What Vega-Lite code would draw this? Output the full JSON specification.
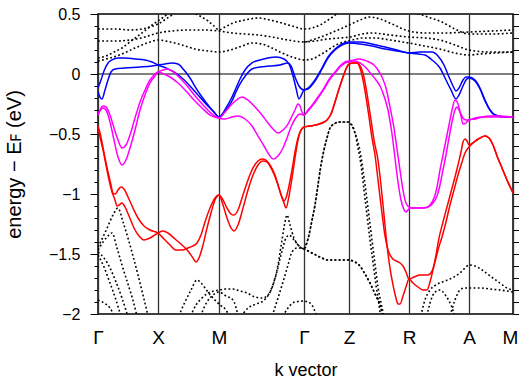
{
"$schema":"https://vega.github.io/schema/vega-lite/v6.json",
"width":415,"height":300,
"autosize":{"type":"none"},
"padding":{"left":98,"top":14,"right":6,"bottom":67},
"background":"white",
"config":{"font":"Liberation Sans","view":{"stroke":"black","strokeWidth":1.5}},
"data":{"values":[
{"b":"B1","k":0,"E":-0.117},{"b":"B1","k":3,"E":-0.05},{"b":"B1","k":6,"E":0.025},{"b":"B1","k":10,"E":0.092},{"b":"B1","k":14,"E":0.117},{"b":"B1","k":20,"E":0.133},{"b":"B1","k":27,"E":0.133},{"b":"B1","k":37,"E":0.125},{"b":"B1","k":47,"E":0.117},{"b":"B1","k":54,"E":0.1},{"b":"B1","k":60,"E":0.075},
{"b":"B1","k":68,"E":0.05},{"b":"B1","k":76,"E":0.017},{"b":"B1","k":84,"E":-0.033},{"b":"B1","k":92,"E":-0.1},{"b":"B1","k":100,"E":-0.175},{"b":"B1","k":108,"E":-0.25},{"b":"B1","k":115,"E":-0.308},{"b":"B1","k":121,"E":-0.358},
{"b":"B1","k":128,"E":-0.3},{"b":"B1","k":134,"E":-0.225},{"b":"B1","k":138,"E":-0.15},{"b":"B1","k":142,"E":-0.083},{"b":"B1","k":148,"E":-0.008},{"b":"B1","k":154,"E":0.042},{"b":"B1","k":162,"E":0.058},{"b":"B1","k":172,"E":0.067},{"b":"B1","k":182,"E":0.075},{"b":"B1","k":190,"E":0.092},{"b":"B1","k":193,"E":0.067},{"b":"B1","k":197,"E":-0.025},{"b":"B1","k":201,"E":-0.1},{"b":"B1","k":206,"E":-0.133},
{"b":"B1","k":210,"E":-0.117},{"b":"B1","k":217,"E":-0.05},{"b":"B1","k":224,"E":0.05},{"b":"B1","k":230,"E":0.142},{"b":"B1","k":237,"E":0.208},{"b":"B1","k":244,"E":0.25},{"b":"B1","k":251,"E":0.267},
{"b":"B1","k":262,"E":0.267},{"b":"B1","k":274,"E":0.25},{"b":"B1","k":287,"E":0.225},{"b":"B1","k":299,"E":0.2},{"b":"B1","k":311,"E":0.175},
{"b":"B1","k":322,"E":0.183},{"b":"B1","k":334,"E":0.183},{"b":"B1","k":340,"E":0.15},{"b":"B1","k":346,"E":0.075},{"b":"B1","k":351,"E":-0.025},{"b":"B1","k":355,"E":-0.1},{"b":"B1","k":358,"E":-0.142},{"b":"B1","k":361,"E":-0.117},{"b":"B1","k":365,"E":-0.05},{"b":"B1","k":368,"E":-0.025},{"b":"B1","k":371,"E":-0.025},
{"b":"B1","k":377,"E":-0.05},{"b":"B1","k":382,"E":-0.117},{"b":"B1","k":387,"E":-0.217},{"b":"B1","k":392,"E":-0.3},{"b":"B1","k":397,"E":-0.342},{"b":"B1","k":407,"E":-0.358},{"b":"B1","k":415,"E":-0.358},

{"b":"B2","k":0,"E":-0.15},{"b":"B2","k":2,"E":-0.192},{"b":"B2","k":4,"E":-0.208},{"b":"B2","k":7,"E":-0.133},{"b":"B2","k":10,"E":-0.05},{"b":"B2","k":13,"E":0.017},{"b":"B2","k":17,"E":0.042},{"b":"B2","k":27,"E":0.05},{"b":"B2","k":42,"E":0.058},{"b":"B2","k":54,"E":0.067},{"b":"B2","k":60,"E":0.075},
{"b":"B2","k":67,"E":0.083},{"b":"B2","k":74,"E":0.092},{"b":"B2","k":80,"E":0.083},{"b":"B2","k":86,"E":0.033},{"b":"B2","k":92,"E":-0.033},{"b":"B2","k":98,"E":-0.117},{"b":"B2","k":104,"E":-0.192},{"b":"B2","k":110,"E":-0.258},{"b":"B2","k":116,"E":-0.317},{"b":"B2","k":121,"E":-0.358},
{"b":"B2","k":128,"E":-0.283},{"b":"B2","k":134,"E":-0.192},{"b":"B2","k":138,"E":-0.117},{"b":"B2","k":142,"E":-0.042},{"b":"B2","k":147,"E":0.033},{"b":"B2","k":154,"E":0.092},{"b":"B2","k":162,"E":0.117},{"b":"B2","k":170,"E":0.133},{"b":"B2","k":178,"E":0.142},{"b":"B2","k":186,"E":0.125},{"b":"B2","k":191,"E":0.083},{"b":"B2","k":195,"E":-0.017},{"b":"B2","k":198,"E":-0.117},{"b":"B2","k":201,"E":-0.208},{"b":"B2","k":203,"E":-0.183},{"b":"B2","k":206,"E":-0.133},
{"b":"B2","k":210,"E":-0.125},{"b":"B2","k":217,"E":-0.058},{"b":"B2","k":224,"E":0.042},{"b":"B2","k":230,"E":0.133},{"b":"B2","k":237,"E":0.2},{"b":"B2","k":244,"E":0.242},{"b":"B2","k":251,"E":0.258},
{"b":"B2","k":262,"E":0.25},{"b":"B2","k":274,"E":0.233},{"b":"B2","k":287,"E":0.208},{"b":"B2","k":299,"E":0.192},{"b":"B2","k":311,"E":0.175},
{"b":"B2","k":320,"E":0.167},{"b":"B2","k":327,"E":0.158},{"b":"B2","k":334,"E":0.117},{"b":"B2","k":342,"E":0.05},{"b":"B2","k":348,"E":-0.05},{"b":"B2","k":353,"E":-0.133},{"b":"B2","k":358,"E":-0.208},{"b":"B2","k":361,"E":-0.175},{"b":"B2","k":365,"E":-0.1},{"b":"B2","k":368,"E":-0.05},{"b":"B2","k":371,"E":-0.033},
{"b":"B2","k":377,"E":-0.058},{"b":"B2","k":382,"E":-0.125},{"b":"B2","k":387,"E":-0.225},{"b":"B2","k":392,"E":-0.3},{"b":"B2","k":397,"E":-0.342},{"b":"B2","k":407,"E":-0.358},{"b":"B2","k":415,"E":-0.358},

{"b":"M1","k":0,"E":-0.342},{"b":"M1","k":2,"E":-0.3},{"b":"M1","k":5,"E":-0.267},{"b":"M1","k":8,"E":-0.275},{"b":"M1","k":12,"E":-0.342},{"b":"M1","k":16,"E":-0.45},{"b":"M1","k":20,"E":-0.55},{"b":"M1","k":24,"E":-0.617},{"b":"M1","k":28,"E":-0.592},{"b":"M1","k":32,"E":-0.508},{"b":"M1","k":37,"E":-0.367},{"b":"M1","k":42,"E":-0.233},{"b":"M1","k":47,"E":-0.133},{"b":"M1","k":52,"E":-0.05},{"b":"M1","k":57,"E":0},{"b":"M1","k":60,"E":0.017},
{"b":"M1","k":65,"E":0.033},{"b":"M1","k":69,"E":0.042},{"b":"M1","k":74,"E":0.025},{"b":"M1","k":82,"E":-0.033},{"b":"M1","k":90,"E":-0.108},{"b":"M1","k":98,"E":-0.192},{"b":"M1","k":106,"E":-0.267},{"b":"M1","k":114,"E":-0.333},{"b":"M1","k":121,"E":-0.367},
{"b":"M1","k":127,"E":-0.317},{"b":"M1","k":134,"E":-0.25},{"b":"M1","k":140,"E":-0.208},{"b":"M1","k":144,"E":-0.192},{"b":"M1","k":150,"E":-0.217},{"b":"M1","k":157,"E":-0.275},{"b":"M1","k":164,"E":-0.342},{"b":"M1","k":170,"E":-0.408},{"b":"M1","k":175,"E":-0.458},{"b":"M1","k":180,"E":-0.492},{"b":"M1","k":185,"E":-0.467},{"b":"M1","k":190,"E":-0.417},{"b":"M1","k":194,"E":-0.35},{"b":"M1","k":197,"E":-0.3},{"b":"M1","k":200,"E":-0.25},{"b":"M1","k":202,"E":-0.267},{"b":"M1","k":204,"E":-0.317},{"b":"M1","k":206,"E":-0.342},
{"b":"M1","k":210,"E":-0.308},{"b":"M1","k":215,"E":-0.258},{"b":"M1","k":220,"E":-0.2},{"b":"M1","k":226,"E":-0.125},{"b":"M1","k":232,"E":-0.042},{"b":"M1","k":237,"E":0.008},{"b":"M1","k":242,"E":0.058},{"b":"M1","k":247,"E":0.092},{"b":"M1","k":251,"E":0.1},
{"b":"M1","k":255,"E":0.108},{"b":"M1","k":260,"E":0.1},{"b":"M1","k":265,"E":0.075},{"b":"M1","k":270,"E":0.033},{"b":"M1","k":274,"E":-0.008},{"b":"M1","k":278,"E":-0.05},{"b":"M1","k":282,"E":-0.1},{"b":"M1","k":286,"E":-0.183},{"b":"M1","k":290,"E":-0.3},{"b":"M1","k":294,"E":-0.5},{"b":"M1","k":297,"E":-0.7},{"b":"M1","k":300,"E":-0.9},{"b":"M1","k":303,"E":-1.05},{"b":"M1","k":306,"E":-1.13},{"b":"M1","k":308,"E":-1.15},{"b":"M1","k":310,"E":-1.133},{"b":"M1","k":312,"E":-1.117},{"b":"M1","k":320,"E":-1.117},{"b":"M1","k":327,"E":-1.117},{"b":"M1","k":332,"E":-1.092},{"b":"M1","k":336,"E":-1.033},{"b":"M1","k":339,"E":-0.942},{"b":"M1","k":342,"E":-0.8},{"b":"M1","k":345,"E":-0.675},{"b":"M1","k":348,"E":-0.55},{"b":"M1","k":351,"E":-0.425},{"b":"M1","k":354,"E":-0.3},{"b":"M1","k":357,"E":-0.217},{"b":"M1","k":360,"E":-0.25},{"b":"M1","k":363,"E":-0.35},{"b":"M1","k":365,"E":-0.417},{"b":"M1","k":368,"E":-0.408},{"b":"M1","k":371,"E":-0.383},
{"b":"M1","k":377,"E":-0.375},{"b":"M1","k":384,"E":-0.358},{"b":"M1","k":392,"E":-0.35},{"b":"M1","k":402,"E":-0.35},{"b":"M1","k":415,"E":-0.358},

{"b":"M2","k":0,"E":-0.342},{"b":"M2","k":2,"E":-0.308},{"b":"M2","k":5,"E":-0.283},{"b":"M2","k":8,"E":-0.3},{"b":"M2","k":12,"E":-0.4},{"b":"M2","k":16,"E":-0.55},{"b":"M2","k":20,"E":-0.692},{"b":"M2","k":24,"E":-0.758},{"b":"M2","k":28,"E":-0.717},{"b":"M2","k":32,"E":-0.617},{"b":"M2","k":37,"E":-0.467},{"b":"M2","k":42,"E":-0.3},{"b":"M2","k":47,"E":-0.175},{"b":"M2","k":52,"E":-0.075},{"b":"M2","k":57,"E":-0.017},{"b":"M2","k":60,"E":0.017},
{"b":"M2","k":66,"E":0},{"b":"M2","k":72,"E":-0.025},{"b":"M2","k":80,"E":-0.075},{"b":"M2","k":88,"E":-0.142},{"b":"M2","k":96,"E":-0.217},{"b":"M2","k":104,"E":-0.283},{"b":"M2","k":112,"E":-0.342},{"b":"M2","k":121,"E":-0.367},
{"b":"M2","k":127,"E":-0.375},{"b":"M2","k":134,"E":-0.358},{"b":"M2","k":140,"E":-0.35},{"b":"M2","k":147,"E":-0.375},{"b":"M2","k":154,"E":-0.433},{"b":"M2","k":160,"E":-0.517},{"b":"M2","k":166,"E":-0.6},{"b":"M2","k":170,"E":-0.658},{"b":"M2","k":175,"E":-0.708},{"b":"M2","k":180,"E":-0.683},{"b":"M2","k":185,"E":-0.617},{"b":"M2","k":189,"E":-0.533},{"b":"M2","k":193,"E":-0.442},{"b":"M2","k":197,"E":-0.375},{"b":"M2","k":202,"E":-0.333},{"b":"M2","k":206,"E":-0.342},
{"b":"M2","k":210,"E":-0.3},{"b":"M2","k":215,"E":-0.25},{"b":"M2","k":220,"E":-0.192},{"b":"M2","k":226,"E":-0.117},{"b":"M2","k":232,"E":-0.033},{"b":"M2","k":237,"E":0.017},{"b":"M2","k":242,"E":0.067},{"b":"M2","k":247,"E":0.1},{"b":"M2","k":251,"E":0.108},
{"b":"M2","k":256,"E":0.117},{"b":"M2","k":261,"E":0.125},{"b":"M2","k":266,"E":0.117},{"b":"M2","k":271,"E":0.1},{"b":"M2","k":276,"E":0.075},{"b":"M2","k":280,"E":0.033},{"b":"M2","k":284,"E":-0.025},{"b":"M2","k":288,"E":-0.117},{"b":"M2","k":292,"E":-0.275},{"b":"M2","k":296,"E":-0.45},{"b":"M2","k":299,"E":-0.625},{"b":"M2","k":302,"E":-0.8},{"b":"M2","k":305,"E":-0.967},{"b":"M2","k":308,"E":-1.075},{"b":"M2","k":311,"E":-1.108},{"b":"M2","k":314,"E":-1.117},{"b":"M2","k":322,"E":-1.117},{"b":"M2","k":330,"E":-1.108},{"b":"M2","k":335,"E":-1.075},{"b":"M2","k":339,"E":-1.017},{"b":"M2","k":342,"E":-0.925},{"b":"M2","k":345,"E":-0.8},{"b":"M2","k":348,"E":-0.675},{"b":"M2","k":351,"E":-0.533},{"b":"M2","k":354,"E":-0.4},{"b":"M2","k":357,"E":-0.3},{"b":"M2","k":359,"E":-0.275},{"b":"M2","k":362,"E":-0.317},{"b":"M2","k":365,"E":-0.367},{"b":"M2","k":368,"E":-0.383},{"b":"M2","k":371,"E":-0.383},
{"b":"M2","k":377,"E":-0.367},{"b":"M2","k":384,"E":-0.358},{"b":"M2","k":392,"E":-0.358},{"b":"M2","k":402,"E":-0.358},{"b":"M2","k":415,"E":-0.358},

{"b":"R1","k":0,"E":-0.433},{"b":"R1","k":2,"E":-0.492},{"b":"R1","k":4,"E":-0.567},{"b":"R1","k":7,"E":-0.7},{"b":"R1","k":10,"E":-0.817},{"b":"R1","k":13,"E":-0.925},{"b":"R1","k":15,"E":-0.992},{"b":"R1","k":17,"E":-1.0},{"b":"R1","k":20,"E":-0.967},{"b":"R1","k":23,"E":-0.942},{"b":"R1","k":26,"E":-0.958},{"b":"R1","k":30,"E":-1.025},{"b":"R1","k":35,"E":-1.117},{"b":"R1","k":40,"E":-1.2},{"b":"R1","k":46,"E":-1.267},{"b":"R1","k":52,"E":-1.3},{"b":"R1","k":60,"E":-1.325},
{"b":"R1","k":66,"E":-1.375},{"b":"R1","k":72,"E":-1.425},{"b":"R1","k":78,"E":-1.467},{"b":"R1","k":84,"E":-1.467},{"b":"R1","k":90,"E":-1.45},{"b":"R1","k":95,"E":-1.433},{"b":"R1","k":99,"E":-1.408},{"b":"R1","k":103,"E":-1.342},{"b":"R1","k":107,"E":-1.233},{"b":"R1","k":112,"E":-1.117},{"b":"R1","k":117,"E":-1.033},{"b":"R1","k":121,"E":-1.008},
{"b":"R1","k":125,"E":-1.05},{"b":"R1","k":129,"E":-1.117},{"b":"R1","k":133,"E":-1.167},{"b":"R1","k":136,"E":-1.175},{"b":"R1","k":140,"E":-1.133},{"b":"R1","k":145,"E":-1.008},{"b":"R1","k":150,"E":-0.883},{"b":"R1","k":155,"E":-0.783},{"b":"R1","k":160,"E":-0.725},{"b":"R1","k":164,"E":-0.708},{"b":"R1","k":168,"E":-0.717},{"b":"R1","k":172,"E":-0.758},{"b":"R1","k":177,"E":-0.842},{"b":"R1","k":181,"E":-0.95},{"b":"R1","k":184,"E":-1.025},{"b":"R1","k":186,"E":-1.058},{"b":"R1","k":188,"E":-1.033},{"b":"R1","k":191,"E":-0.933},{"b":"R1","k":194,"E":-0.8},{"b":"R1","k":197,"E":-0.65},{"b":"R1","k":200,"E":-0.533},{"b":"R1","k":203,"E":-0.467},{"b":"R1","k":206,"E":-0.442},
{"b":"R1","k":212,"E":-0.433},{"b":"R1","k":218,"E":-0.425},{"b":"R1","k":224,"E":-0.408},{"b":"R1","k":229,"E":-0.383},{"b":"R1","k":233,"E":-0.333},{"b":"R1","k":237,"E":-0.233},{"b":"R1","k":241,"E":-0.125},{"b":"R1","k":245,"E":-0.025},{"b":"R1","k":248,"E":0.042},{"b":"R1","k":251,"E":0.083},{"b":"R1","k":255,"E":0.092},{"b":"R1","k":259,"E":0.092},
{"b":"R1","k":262,"E":0.05},{"b":"R1","k":265,"E":-0.05},{"b":"R1","k":268,"E":-0.192},{"b":"R1","k":271,"E":-0.358},{"b":"R1","k":274,"E":-0.533},{"b":"R1","k":277,"E":-0.675},{"b":"R1","k":280,"E":-0.883},{"b":"R1","k":283,"E":-1.092},{"b":"R1","k":287,"E":-1.35},{"b":"R1","k":290,"E":-1.467},{"b":"R1","k":294,"E":-1.533},{"b":"R1","k":298,"E":-1.558},{"b":"R1","k":302,"E":-1.575},{"b":"R1","k":305,"E":-1.6},{"b":"R1","k":308,"E":-1.65},{"b":"R1","k":311,"E":-1.708},
{"b":"R1","k":316,"E":-1.692},{"b":"R1","k":322,"E":-1.675},{"b":"R1","k":330,"E":-1.675},{"b":"R1","k":334,"E":-1.642},{"b":"R1","k":337,"E":-1.567},{"b":"R1","k":340,"E":-1.467},{"b":"R1","k":344,"E":-1.358},{"b":"R1","k":348,"E":-1.233},{"b":"R1","k":352,"E":-1.092},{"b":"R1","k":356,"E":-0.967},{"b":"R1","k":360,"E":-0.842},{"b":"R1","k":364,"E":-0.733},{"b":"R1","k":367,"E":-0.658},{"b":"R1","k":371,"E":-0.608},
{"b":"R1","k":376,"E":-0.567},{"b":"R1","k":382,"E":-0.533},{"b":"R1","k":387,"E":-0.517},{"b":"R1","k":391,"E":-0.533},{"b":"R1","k":395,"E":-0.592},{"b":"R1","k":399,"E":-0.683},{"b":"R1","k":404,"E":-0.783},{"b":"R1","k":409,"E":-0.883},{"b":"R1","k":415,"E":-0.992},

{"b":"R2","k":0,"E":-0.45},{"b":"R2","k":2,"E":-0.525},{"b":"R2","k":5,"E":-0.633},{"b":"R2","k":8,"E":-0.758},{"b":"R2","k":11,"E":-0.883},{"b":"R2","k":14,"E":-0.983},{"b":"R2","k":17,"E":-1.05},{"b":"R2","k":19,"E":-1.1},{"b":"R2","k":21,"E":-1.092},{"b":"R2","k":24,"E":-1.075},{"b":"R2","k":27,"E":-1.108},{"b":"R2","k":31,"E":-1.183},{"b":"R2","k":36,"E":-1.283},{"b":"R2","k":41,"E":-1.35},{"b":"R2","k":46,"E":-1.383},{"b":"R2","k":52,"E":-1.367},{"b":"R2","k":60,"E":-1.325},
{"b":"R2","k":65,"E":-1.308},{"b":"R2","k":70,"E":-1.325},{"b":"R2","k":77,"E":-1.375},{"b":"R2","k":84,"E":-1.425},{"b":"R2","k":90,"E":-1.475},{"b":"R2","k":95,"E":-1.533},{"b":"R2","k":98,"E":-1.567},{"b":"R2","k":101,"E":-1.533},{"b":"R2","k":105,"E":-1.425},{"b":"R2","k":109,"E":-1.283},{"b":"R2","k":113,"E":-1.158},{"b":"R2","k":117,"E":-1.05},{"b":"R2","k":121,"E":-1.008},
{"b":"R2","k":125,"E":-1.092},{"b":"R2","k":129,"E":-1.2},{"b":"R2","k":133,"E":-1.283},{"b":"R2","k":136,"E":-1.308},{"b":"R2","k":140,"E":-1.258},{"b":"R2","k":145,"E":-1.117},{"b":"R2","k":150,"E":-0.967},{"b":"R2","k":155,"E":-0.842},{"b":"R2","k":160,"E":-0.758},{"b":"R2","k":165,"E":-0.725},{"b":"R2","k":169,"E":-0.733},{"b":"R2","k":174,"E":-0.8},{"b":"R2","k":179,"E":-0.9},{"b":"R2","k":183,"E":-1.008},{"b":"R2","k":186,"E":-1.075},{"b":"R2","k":188,"E":-1.117},{"b":"R2","k":191,"E":-1.017},{"b":"R2","k":194,"E":-0.867},{"b":"R2","k":197,"E":-0.7},{"b":"R2","k":200,"E":-0.55},{"b":"R2","k":203,"E":-0.467},{"b":"R2","k":206,"E":-0.442},
{"b":"R2","k":212,"E":-0.433},{"b":"R2","k":218,"E":-0.425},{"b":"R2","k":224,"E":-0.408},{"b":"R2","k":229,"E":-0.383},{"b":"R2","k":233,"E":-0.333},{"b":"R2","k":237,"E":-0.233},{"b":"R2","k":241,"E":-0.125},{"b":"R2","k":245,"E":-0.025},{"b":"R2","k":248,"E":0.042},{"b":"R2","k":251,"E":0.083},{"b":"R2","k":255,"E":0.092},{"b":"R2","k":259,"E":0.092},
{"b":"R2","k":264,"E":0.033},{"b":"R2","k":267,"E":-0.067},{"b":"R2","k":270,"E":-0.217},{"b":"R2","k":273,"E":-0.383},{"b":"R2","k":276,"E":-0.55},{"b":"R2","k":280,"E":-0.717},{"b":"R2","k":283,"E":-0.925},{"b":"R2","k":286,"E":-1.175},{"b":"R2","k":289,"E":-1.425},{"b":"R2","k":292,"E":-1.617},{"b":"R2","k":295,"E":-1.758},{"b":"R2","k":298,"E":-1.867},{"b":"R2","k":300,"E":-1.917},{"b":"R2","k":302,"E":-1.917},{"b":"R2","k":305,"E":-1.85},{"b":"R2","k":308,"E":-1.775},{"b":"R2","k":311,"E":-1.708},
{"b":"R2","k":315,"E":-1.742},{"b":"R2","k":320,"E":-1.775},{"b":"R2","k":325,"E":-1.8},{"b":"R2","k":329,"E":-1.8},{"b":"R2","k":332,"E":-1.733},{"b":"R2","k":335,"E":-1.633},{"b":"R2","k":338,"E":-1.508},{"b":"R2","k":341,"E":-1.367},{"b":"R2","k":345,"E":-1.233},{"b":"R2","k":349,"E":-1.108},{"b":"R2","k":353,"E":-0.983},{"b":"R2","k":357,"E":-0.858},{"b":"R2","k":360,"E":-0.758},{"b":"R2","k":363,"E":-0.65},{"b":"R2","k":365,"E":-0.567},{"b":"R2","k":367,"E":-0.542},{"b":"R2","k":369,"E":-0.558},{"b":"R2","k":371,"E":-0.592},
{"b":"R2","k":376,"E":-0.567},{"b":"R2","k":382,"E":-0.533},{"b":"R2","k":387,"E":-0.517},{"b":"R2","k":391,"E":-0.533},{"b":"R2","k":395,"E":-0.592},{"b":"R2","k":399,"E":-0.683},{"b":"R2","k":404,"E":-0.783},{"b":"R2","k":409,"E":-0.883},{"b":"R2","k":415,"E":-0.992},

{"b":"D1","k":0,"E":-1.442},{"b":"D1","k":5,"E":-1.358},{"b":"D1","k":10,"E":-1.267},{"b":"D1","k":15,"E":-1.175},{"b":"D1","k":20,"E":-1.117},{"b":"D1","k":25,"E":-1.233},{"b":"D1","k":30,"E":-1.367},{"b":"D1","k":35,"E":-1.517},{"b":"D1","k":40,"E":-1.675},{"b":"D1","k":45,"E":-1.842},{"b":"D1","k":51,"E":-2.05},
{"b":"D2","k":0,"E":-1.467},{"b":"D2","k":5,"E":-1.4},{"b":"D2","k":10,"E":-1.35},{"b":"D2","k":14,"E":-1.325},{"b":"D2","k":19,"E":-1.45},{"b":"D2","k":24,"E":-1.592},{"b":"D2","k":29,"E":-1.725},{"b":"D2","k":34,"E":-1.858},{"b":"D2","k":40,"E":-2.05},
{"b":"D3","k":0,"E":-1.483},{"b":"D3","k":6,"E":-1.533},{"b":"D3","k":12,"E":-1.617},{"b":"D3","k":18,"E":-1.733},{"b":"D3","k":24,"E":-1.867},{"b":"D3","k":31,"E":-2.05},
{"b":"D4","k":0,"E":-1.508},{"b":"D4","k":6,"E":-1.608},{"b":"D4","k":12,"E":-1.742},{"b":"D4","k":18,"E":-1.883},{"b":"D4","k":24,"E":-2.05},
{"b":"D5","k":0,"E":-1.883},{"b":"D5","k":6,"E":-1.908},{"b":"D5","k":12,"E":-1.95},{"b":"D5","k":18,"E":-2.05},
{"b":"D6","k":79,"E":-2.05},{"b":"D6","k":87,"E":-1.9},{"b":"D6","k":93,"E":-1.8},{"b":"D6","k":99,"E":-1.717},{"b":"D6","k":104,"E":-1.75},{"b":"D6","k":110,"E":-1.817},{"b":"D6","k":116,"E":-1.875},{"b":"D6","k":122,"E":-1.925},{"b":"D6","k":128,"E":-1.967},{"b":"D6","k":133,"E":-2.05},
{"b":"D7","k":91,"E":-2.05},{"b":"D7","k":98,"E":-1.925},{"b":"D7","k":104,"E":-1.867},{"b":"D7","k":110,"E":-1.825},{"b":"D7","k":116,"E":-1.808},{"b":"D7","k":121,"E":-1.8},{"b":"D7","k":128,"E":-1.792},{"b":"D7","k":135,"E":-1.792},{"b":"D7","k":142,"E":-1.808},{"b":"D7","k":149,"E":-1.825},{"b":"D7","k":157,"E":-1.858},{"b":"D7","k":164,"E":-1.867},{"b":"D7","k":170,"E":-1.842},{"b":"D7","k":175,"E":-1.758},{"b":"D7","k":180,"E":-1.592},{"b":"D7","k":184,"E":-1.383},{"b":"D7","k":187,"E":-1.233},{"b":"D7","k":189,"E":-1.175},{"b":"D7","k":192,"E":-1.258},{"b":"D7","k":196,"E":-1.367},{"b":"D7","k":201,"E":-1.433},{"b":"D7","k":206,"E":-1.458},{"b":"D7","k":214,"E":-1.492},{"b":"D7","k":222,"E":-1.525},{"b":"D7","k":230,"E":-1.55},{"b":"D7","k":242,"E":-1.55},{"b":"D7","k":250,"E":-1.55},{"b":"D7","k":257,"E":-1.567},{"b":"D7","k":262,"E":-1.6},{"b":"D7","k":267,"E":-1.667},{"b":"D7","k":272,"E":-1.742},{"b":"D7","k":277,"E":-1.833},{"b":"D7","k":282,"E":-1.925},{"b":"D7","k":286,"E":-2.05},
{"b":"D8","k":101,"E":-2.05},{"b":"D8","k":109,"E":-1.9},{"b":"D8","k":115,"E":-1.842},{"b":"D8","k":121,"E":-1.817},{"b":"D8","k":128,"E":-1.85},{"b":"D8","k":135,"E":-1.883},{"b":"D8","k":141,"E":-2.05},
{"b":"D9","k":141,"E":-2.05},{"b":"D9","k":150,"E":-1.95},{"b":"D9","k":158,"E":-1.917},{"b":"D9","k":165,"E":-1.892},{"b":"D9","k":172,"E":-1.817},{"b":"D9","k":178,"E":-1.675},{"b":"D9","k":183,"E":-1.508},{"b":"D9","k":188,"E":-1.367},{"b":"D9","k":191,"E":-1.342},{"b":"D9","k":196,"E":-1.383},{"b":"D9","k":201,"E":-1.433},{"b":"D9","k":206,"E":-1.458},{"b":"D9","k":211,"E":-1.342},{"b":"D9","k":214,"E":-1.217},{"b":"D9","k":217,"E":-1.092},{"b":"D9","k":220,"E":-0.925},{"b":"D9","k":223,"E":-0.758},{"b":"D9","k":226,"E":-0.633},{"b":"D9","k":229,"E":-0.533},{"b":"D9","k":232,"E":-0.45},{"b":"D9","k":236,"E":-0.417},{"b":"D9","k":242,"E":-0.4},{"b":"D9","k":250,"E":-0.4},{"b":"D9","k":254,"E":-0.425},{"b":"D9","k":257,"E":-0.492},{"b":"D9","k":260,"E":-0.617},{"b":"D9","k":263,"E":-0.758},{"b":"D9","k":266,"E":-0.967},{"b":"D9","k":269,"E":-1.175},{"b":"D9","k":272,"E":-1.383},{"b":"D9","k":275,"E":-1.567},{"b":"D9","k":278,"E":-1.758},{"b":"D9","k":281,"E":-1.925},{"b":"D9","k":283,"E":-2.05},
{"b":"D10","k":173,"E":-2.05},{"b":"D10","k":180,"E":-1.867},{"b":"D10","k":185,"E":-1.733},{"b":"D10","k":190,"E":-1.592},{"b":"D10","k":194,"E":-1.483},{"b":"D10","k":199,"E":-1.45},{"b":"D10","k":206,"E":-1.458},{"b":"D10","k":214,"E":-1.492},{"b":"D10","k":222,"E":-1.525},{"b":"D10","k":230,"E":-1.55},{"b":"D10","k":242,"E":-1.55},{"b":"D10","k":250,"E":-1.55},{"b":"D10","k":257,"E":-1.567},{"b":"D10","k":262,"E":-1.6},{"b":"D10","k":267,"E":-1.667},{"b":"D10","k":272,"E":-1.742},{"b":"D10","k":277,"E":-1.833},{"b":"D10","k":282,"E":-1.925},{"b":"D10","k":286,"E":-2.05},
{"b":"D11","k":206,"E":-1.458},{"b":"D11","k":211,"E":-1.342},{"b":"D11","k":214,"E":-1.217},{"b":"D11","k":217,"E":-1.092},{"b":"D11","k":220,"E":-0.925},{"b":"D11","k":223,"E":-0.758},{"b":"D11","k":226,"E":-0.633},{"b":"D11","k":229,"E":-0.533},{"b":"D11","k":232,"E":-0.45},{"b":"D11","k":236,"E":-0.417},{"b":"D11","k":242,"E":-0.4},{"b":"D11","k":250,"E":-0.4},{"b":"D11","k":254,"E":-0.433},{"b":"D11","k":258,"E":-0.517},{"b":"D11","k":262,"E":-0.642},{"b":"D11","k":265,"E":-0.8},{"b":"D11","k":268,"E":-0.983},{"b":"D11","k":271,"E":-1.183},{"b":"D11","k":274,"E":-1.383},{"b":"D11","k":277,"E":-1.583},{"b":"D11","k":280,"E":-1.775},{"b":"D11","k":283,"E":-1.908},{"b":"D11","k":287,"E":-2.05},
{"b":"D12","k":183,"E":-2.05},{"b":"D12","k":190,"E":-1.95},{"b":"D12","k":197,"E":-1.9},{"b":"D12","k":205,"E":-1.892},{"b":"D12","k":212,"E":-1.908},{"b":"D12","k":220,"E":-2.05},
{"b":"D13","k":322,"E":-2.05},{"b":"D13","k":327,"E":-1.883},{"b":"D13","k":332,"E":-1.8},{"b":"D13","k":338,"E":-1.758},{"b":"D13","k":347,"E":-1.725},{"b":"D13","k":354,"E":-1.7},{"b":"D13","k":362,"E":-1.658},{"b":"D13","k":367,"E":-1.617},{"b":"D13","k":371,"E":-1.592},{"b":"D13","k":377,"E":-1.6},{"b":"D13","k":384,"E":-1.633},{"b":"D13","k":392,"E":-1.683},{"b":"D13","k":402,"E":-1.742},{"b":"D13","k":409,"E":-1.783},{"b":"D13","k":415,"E":-1.8},
{"b":"D14","k":351,"E":-2.05},{"b":"D14","k":357,"E":-1.883},{"b":"D14","k":362,"E":-1.8},{"b":"D14","k":367,"E":-1.783},{"b":"D14","k":371,"E":-1.783},{"b":"D14","k":382,"E":-1.783},{"b":"D14","k":392,"E":-1.792},{"b":"D14","k":402,"E":-1.8},{"b":"D14","k":415,"E":-1.817},
{"b":"D15","k":328,"E":-2.05},{"b":"D15","k":333,"E":-1.883},{"b":"D15","k":337,"E":-1.817},{"b":"D15","k":342,"E":-1.8},{"b":"D15","k":348,"E":-1.85},{"b":"D15","k":353,"E":-1.925},{"b":"D15","k":358,"E":-2.05},

{"b":"UA","k":0,"E":0.133},{"b":"UA","k":8,"E":0.15},{"b":"UA","k":16,"E":0.183},{"b":"UA","k":24,"E":0.217},{"b":"UA","k":32,"E":0.267},{"b":"UA","k":40,"E":0.317},{"b":"UA","k":48,"E":0.367},{"b":"UA","k":54,"E":0.408},{"b":"UA","k":60,"E":0.442},{"b":"UA","k":67,"E":0.483},{"b":"UA","k":74,"E":0.53},
{"b":"UB","k":0,"E":0.108},{"b":"UB","k":12,"E":0.133},{"b":"UB","k":24,"E":0.167},{"b":"UB","k":37,"E":0.217},{"b":"UB","k":49,"E":0.258},{"b":"UB","k":60,"E":0.283},{"b":"UB","k":72,"E":0.267},{"b":"UB","k":84,"E":0.242},{"b":"UB","k":97,"E":0.208},{"b":"UB","k":110,"E":0.192},{"b":"UB","k":121,"E":0.183},{"b":"UB","k":132,"E":0.2},{"b":"UB","k":144,"E":0.233},{"b":"UB","k":154,"E":0.258},{"b":"UB","k":164,"E":0.25},{"b":"UB","k":174,"E":0.217},{"b":"UB","k":184,"E":0.175},{"b":"UB","k":194,"E":0.142},{"b":"UB","k":206,"E":0.117},{"b":"UB","k":214,"E":0.125},{"b":"UB","k":222,"E":0.158},{"b":"UB","k":230,"E":0.2},{"b":"UB","k":238,"E":0.242},{"b":"UB","k":246,"E":0.267},{"b":"UB","k":254,"E":0.283},{"b":"UB","k":264,"E":0.3},{"b":"UB","k":277,"E":0.3},{"b":"UB","k":292,"E":0.283},{"b":"UB","k":311,"E":0.258},{"b":"UB","k":327,"E":0.233},{"b":"UB","k":342,"E":0.208},{"b":"UB","k":357,"E":0.175},{"b":"UB","k":371,"E":0.158},{"b":"UB","k":382,"E":0.167},{"b":"UB","k":397,"E":0.175},{"b":"UB","k":415,"E":0.183},
{"b":"UC","k":0,"E":0.275},{"b":"UC","k":17,"E":0.275},{"b":"UC","k":32,"E":0.283},{"b":"UC","k":47,"E":0.308},{"b":"UC","k":60,"E":0.342},{"b":"UC","k":74,"E":0.358},{"b":"UC","k":90,"E":0.367},{"b":"UC","k":106,"E":0.367},{"b":"UC","k":121,"E":0.358},{"b":"UC","k":134,"E":0.342},{"b":"UC","k":147,"E":0.333},{"b":"UC","k":160,"E":0.325},{"b":"UC","k":174,"E":0.308},{"b":"UC","k":190,"E":0.283},{"b":"UC","k":206,"E":0.267},{"b":"UC","k":217,"E":0.292},{"b":"UC","k":228,"E":0.325},{"b":"UC","k":240,"E":0.367},{"b":"UC","k":251,"E":0.408},{"b":"UC","k":262,"E":0.45},{"b":"UC","k":272,"E":0.475},{"b":"UC","k":282,"E":0.458},{"b":"UC","k":294,"E":0.417},{"b":"UC","k":311,"E":0.358},{"b":"UC","k":327,"E":0.342},{"b":"UC","k":347,"E":0.342},{"b":"UC","k":371,"E":0.35},{"b":"UC","k":392,"E":0.358},{"b":"UC","k":415,"E":0.367},
{"b":"UD","k":0,"E":0.375},{"b":"UD","k":17,"E":0.375},{"b":"UD","k":32,"E":0.367},{"b":"UD","k":44,"E":0.375},{"b":"UD","k":52,"E":0.392},{"b":"UD","k":60,"E":0.417},{"b":"UD","k":68,"E":0.458},{"b":"UD","k":74,"E":0.492},{"b":"UD","k":80,"E":0.53},
{"b":"UE","k":90,"E":0.53},{"b":"UE","k":102,"E":0.483},{"b":"UE","k":110,"E":0.442},{"b":"UE","k":116,"E":0.4},{"b":"UE","k":121,"E":0.367},{"b":"UE","k":127,"E":0.392},{"b":"UE","k":135,"E":0.425},{"b":"UE","k":147,"E":0.45},{"b":"UE","k":160,"E":0.467},{"b":"UE","k":172,"E":0.45},{"b":"UE","k":184,"E":0.425},{"b":"UE","k":194,"E":0.4},{"b":"UE","k":206,"E":0.375},{"b":"UE","k":214,"E":0.383},{"b":"UE","k":222,"E":0.408},{"b":"UE","k":230,"E":0.45},{"b":"UE","k":236,"E":0.483},{"b":"UE","k":242,"E":0.53},
{"b":"UF","k":206,"E":0.267},{"b":"UF","k":217,"E":0.275},{"b":"UF","k":230,"E":0.292},{"b":"UF","k":242,"E":0.3},{"b":"UF","k":252,"E":0.308},{"b":"UF","k":264,"E":0.333},{"b":"UF","k":274,"E":0.342},{"b":"UF","k":292,"E":0.325},{"b":"UF","k":311,"E":0.308},{"b":"UF","k":327,"E":0.3},{"b":"UF","k":342,"E":0.283},{"b":"UF","k":357,"E":0.242},{"b":"UF","k":371,"E":0.2},{"b":"UF","k":392,"E":0.183},{"b":"UF","k":415,"E":0.183},
{"b":"UG","k":312,"E":0.53},{"b":"UG","k":327,"E":0.483},{"b":"UG","k":344,"E":0.433},{"b":"UG","k":357,"E":0.375},{"b":"UG","k":371,"E":0.333},{"b":"UG","k":392,"E":0.333},{"b":"UG","k":415,"E":0.342}
]},
"resolve":{"axis":{"y":"independent"}},
"layer":[
{"transform":[{"filter":"indexof(['B1','B2','M1','M2','R1','R2'], datum.b) < 0"}],
 "mark":{"type":"line","color":"black","strokeWidth":1.6,"strokeDash":[1.8,2.4],"interpolate":"monotone","clip":true},
 "encoding":{
  "x":{"field":"k","type":"quantitative","scale":{"domain":[0,415],"nice":false,"zero":false},
   "axis":{"values":[0,60,121,206,251,311,371,415],"labelExpr":"datum.value==0||datum.value==206?'Γ':datum.value==60?'X':datum.value==121||datum.value==415?'M':datum.value==251?'Z':datum.value==311?'R':'A'","labelOffset":{"condition":{"test":"datum.value==415","value":-3},"value":0},"grid":true,"gridColor":"#333333","gridWidth":1.3,"ticks":false,"domain":false,"labelFontSize":19,"labelColor":"black","labelPadding":14,"labelOverlap":false,"labelBound":false,"labelFlush":false,"title":"k vector","titleFontSize":18,"titleFontWeight":"normal","titleColor":"black","titlePadding":14}},
  "y":{"field":"E","type":"quantitative","scale":{"domain":[-2,0.5],"nice":false,"zero":false},
   "axis":{"orient":"left","values":[-2,-1.9,-1.8,-1.7,-1.6,-1.5,-1.4,-1.3,-1.2,-1.1,-1,-0.9,-0.8,-0.7,-0.6,-0.5,-0.4,-0.3,-0.2,-0.1,0,0.1,0.2,0.3,0.4,0.5],"format":"~g","labelExpr":"abs(datum.value*2-round(datum.value*2))<0.001?datum.label:''","tickSize":{"condition":{"test":"abs(datum.value*2-round(datum.value*2))<0.001","value":8},"value":4},"tickColor":"black","domain":false,"grid":false,"labelFontSize":16,"labelColor":"black","labelPadding":10,"labelOverlap":false,"title":"energy − Eꜰ (eV)","titleFontSize":20,"titleFontWeight":"normal","titleColor":"black","titlePadding":24}},
  "detail":{"field":"b","type":"nominal"}}},
{"data":{"values":[{"E":0}]},
 "mark":{"type":"rule","color":"black","strokeWidth":1},
 "encoding":{"y":{"field":"E","type":"quantitative","axis":null}}},
{"transform":[{"filter":"indexof(['B1','B2','M1','M2','R1','R2'], datum.b) >= 0"}],
 "mark":{"type":"line","strokeWidth":1.5,"interpolate":"monotone","clip":true},
 "encoding":{
  "x":{"field":"k","type":"quantitative"},
  "y":{"field":"E","type":"quantitative","axis":{"orient":"right","values":[-2,-1.9,-1.8,-1.7,-1.6,-1.5,-1.4,-1.3,-1.2,-1.1,-1,-0.9,-0.8,-0.7,-0.6,-0.5,-0.4,-0.3,-0.2,-0.1,0,0.1,0.2,0.3,0.4,0.5],"labels":false,"tickSize":6,"tickColor":"black","domain":false,"grid":false,"title":null}},
  "color":{"field":"b","type":"nominal","scale":{"domain":["B1","B2","M1","M2","R1","R2"],"range":["#0000ff","#0000ff","#ff00ff","#ff00ff","#ff0000","#ff0000"]},"legend":null},
  "detail":{"field":"b","type":"nominal"}}}
]
}
